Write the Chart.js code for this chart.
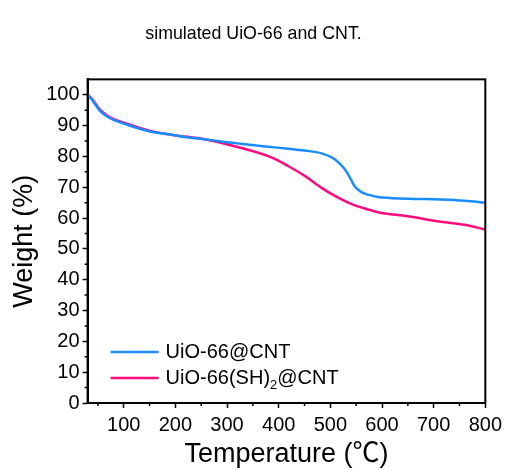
<!DOCTYPE html>
<html lang="en">
<head>
<meta charset="UTF-8">
<title>TGA curves</title>
<script src="https://cdn.jsdelivr.net/npm/chart.js@4.4.0/dist/chart.umd.min.js"></script>
<style>
    body { margin: 0; background: #fff; }
    #tga { display: block; }
</style>
</head>
<body>
<canvas id="tga" width="507" height="470"></canvas>
<script>
// Data
const seriesNames = ['UiO-66@CNT', 'UiO-66(SH)\u2082@CNT'];
const seriesColors = ['#1a8cff', '#ff0a7f'];

const tempCNT = [30, 38, 54, 70, 108, 153, 198, 217, 256, 281, 326, 370, 419, 450, 483, 509, 528, 540, 547, 560, 573, 592, 650, 714, 760, 800];
const weightCNT = [100, 98.5, 94.8, 92.7, 90.2, 88.0, 86.9, 86.3, 85.6, 85.0, 84.1, 83.3, 82.5, 81.9, 81.0, 79.0, 75.8, 72.5, 70.3, 68.4, 67.6, 66.8, 66.3, 66.0, 65.6, 65.0];

const tempSH = [30, 38, 54, 70, 108, 153, 198, 256, 326, 387, 419, 451, 483, 515, 547, 573, 592, 650, 714, 760, 800];
const weightSH = [100, 98.8, 95.2, 93.0, 90.5, 88.2, 86.9, 85.6, 82.8, 79.6, 76.8, 73.6, 69.8, 66.6, 64.1, 62.8, 61.9, 60.6, 58.8, 57.8, 56.3];

const xTicks = [100, 200, 300, 400, 500, 600, 700, 800];
const xMinor = [50, 150, 250, 350, 450, 550, 650, 750];
const yTicks = [0, 10, 20, 30, 40, 50, 60, 70, 80, 90, 100];
const yMinor = [5, 15, 25, 35, 45, 55, 65, 75, 85, 95];

const FONT = "'Liberation Sans', Arial, 'Noto Sans CJK SC', sans-serif";

function toPoints(xs, ys) {
    return xs.map((x, i) => ({x: x, y: ys[i]}));
}

// frame, minor ticks and the in-plot legend
const extras = {
    id: 'extras',
    afterDraw(chart) {
        const ctx = chart.ctx;
        const a = chart.chartArea;
        const xs = chart.scales.x, ys = chart.scales.y;
        ctx.save();
        ctx.strokeStyle = '#000';
        ctx.lineWidth = 2;
        ctx.strokeRect(a.left, a.top, a.right - a.left, a.bottom - a.top);

        ctx.lineWidth = 1.5;
        ctx.beginPath();
        xMinor.forEach(v => {
            const p = xs.getPixelForValue(v);
            ctx.moveTo(p, a.bottom); ctx.lineTo(p, a.bottom + 3);
        });
        yMinor.forEach(v => {
            const p = ys.getPixelForValue(v);
            ctx.moveTo(a.left, p); ctx.lineTo(a.left - 3, p);
        });
        ctx.stroke();

        // legend
        const lx = a.left + 23;
        chart.data.datasets.forEach((ds, i) => {
            const y = a.bottom - 51 + i * 26;
            ctx.strokeStyle = ds.borderColor;
            ctx.lineWidth = 2.5;
            ctx.beginPath();
            ctx.moveTo(lx, y); ctx.lineTo(lx + 48, y);
            ctx.stroke();
            ctx.fillStyle = '#000';
            ctx.textBaseline = 'middle';
            let tx = lx + 55;
            const parts = ds.label.split('\u2082');
            parts.forEach((part, k) => {
                ctx.font = '20px ' + FONT;
                ctx.fillText(part, tx, y);
                tx += ctx.measureText(part).width;
                if (k < parts.length - 1) {
                    ctx.font = '13px ' + FONT;
                    ctx.fillText('2', tx, y + 7);
                    tx += ctx.measureText('2').width;
                }
            });
        });
        ctx.restore();
    }
};

new Chart(document.getElementById('tga'), {
    type: 'line',
    data: {
        datasets: [
            {label: seriesNames[0], data: toPoints(tempCNT, weightCNT), borderColor: seriesColors[0]},
            {label: seriesNames[1], data: toPoints(tempSH, weightSH), borderColor: seriesColors[1]}
        ]
    },
    options: {
        responsive: false,
        animation: false,
        parsing: false,
        layout: {padding: {left: 20, right: 20, top: 0, bottom: 0}},
        elements: {
            point: {radius: 0},
            line: {borderWidth: 2.5, cubicInterpolationMode: 'monotone', fill: false}
        },
        plugins: {
            legend: {display: false},
            tooltip: {enabled: false},
            title: {
                display: true,
                text: 'simulated UiO-66 and CNT.',
                color: '#000',
                font: {family: FONT, size: 17.8, weight: 'normal'},
                padding: {top: 23, bottom: 35}
            }
        },
        scales: {
            x: {
                type: 'linear',
                min: 30,
                max: 800,
                afterBuildTicks: s => { s.ticks = xTicks.map(v => ({value: v})); },
                afterFit: s => { s.height = 67; },
                grid: {drawOnChartArea: false, color: '#000', tickLength: 5, tickWidth: 1.5},
                border: {color: '#000', width: 2},
                ticks: {color: '#000', font: {family: FONT, size: 20}, padding: 5, maxRotation: 0},
                title: {display: true, text: 'Temperature (\u2103)', color: '#000',
                        font: {family: FONT, size: 27}, padding: {top: 0, bottom: -1}}
            },
            y: {
                type: 'linear',
                min: 0,
                max: 105,
                afterBuildTicks: s => { s.ticks = yTicks.map(v => ({value: v})); },
                afterFit: s => { s.width = 67.6; },
                grid: {drawOnChartArea: false, color: '#000', tickLength: 5, tickWidth: 1.5},
                border: {color: '#000', width: 2},
                ticks: {color: '#000', font: {family: FONT, size: 20}, padding: 3},
                title: {display: true, text: 'Weight (%)', color: '#000',
                        font: {family: FONT, size: 27}, padding: {top: -12, bottom: 0}}
            }
        }
    },
    plugins: [extras]
});
</script>
</body>
</html>
